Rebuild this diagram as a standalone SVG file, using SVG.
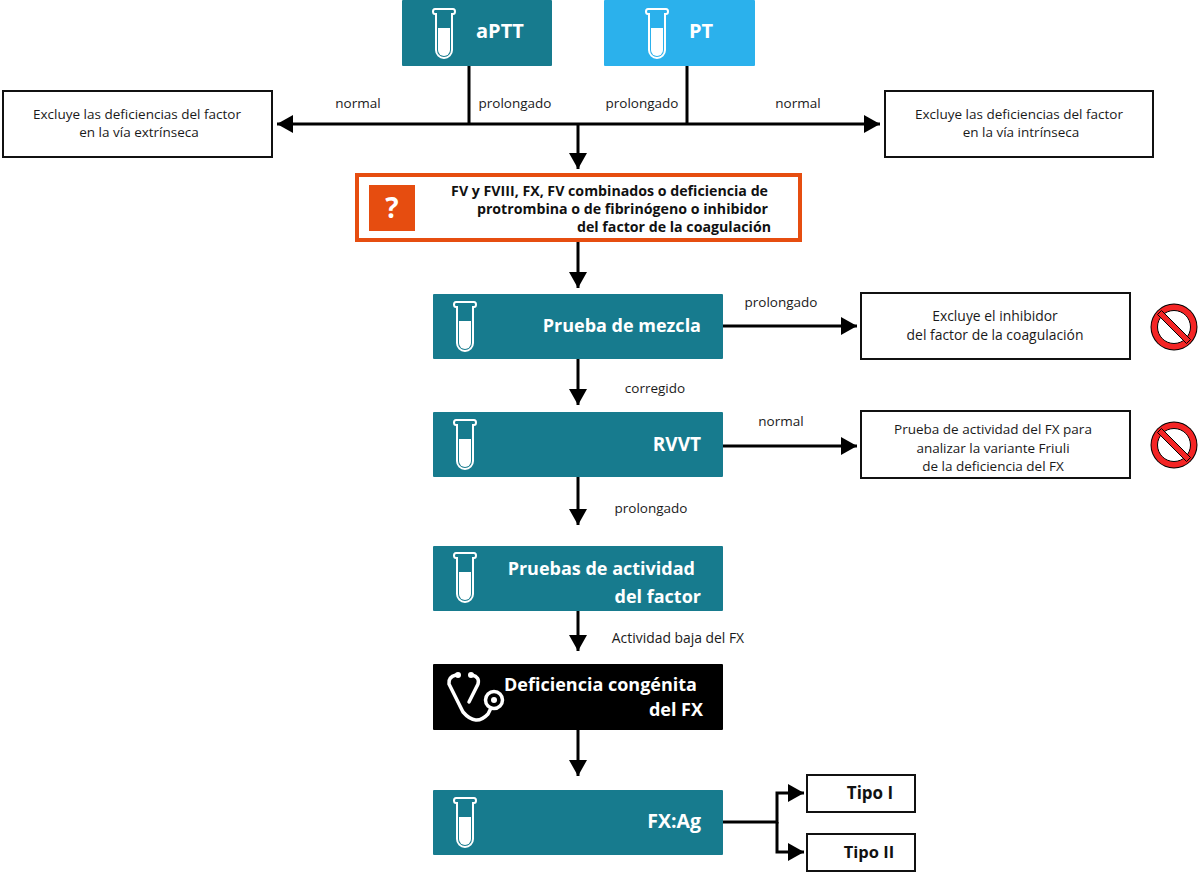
<svg xmlns="http://www.w3.org/2000/svg" xmlns:xlink="http://www.w3.org/1999/xlink" width="1200" height="874" viewBox="0 0 1200 874">
<style>
text{font-family:"Open Sans","Noto Sans","Liberation Sans",sans-serif}
.t{font-size:13.500px;fill:#1a1a1a}
.l{font-size:13.900px}
.m{text-anchor:middle}
.e{text-anchor:end}
.w{font-size:18px;font-weight:700;fill:#fff}
.b{font-size:14.200px;font-weight:700;fill:#111}
.teal{fill:#177b8e}
.box{fill:#fff;stroke:#111;stroke-width:2}
.line{fill:none;stroke:#000;stroke-width:3}
.tb{fill:none;stroke:#fff;stroke-width:2}
</style>
<defs>
<marker id="arr" markerUnits="userSpaceOnUse" markerWidth="16" markerHeight="18" refX="16" refY="9" orient="auto"><path d="M0 0L16 9L0 18Z" fill="#000"/></marker>
<g id="tube">
<path class="tb" d="M-9 0H9Q11 0 11 2.500Q11 5 9 5H8V41A8 8 0 0 1 -8 41V5H-9Q-11 5 -11 2.500Q-11 0 -9 0Z"/>
<path fill="#fff" d="M-6 19H6V41A6 6 0 0 1 -6 41Z"/>
</g>
<g id="no">
<circle r="23.500" fill="#000"/>
<circle r="22.500" fill="#f42525"/>
<circle r="16.500" fill="#fff" stroke="#000" stroke-width="1"/>
<path d="M-16.500 -12.500L-12.500 -16.500L16.500 12.500L12.500 16.500Z" fill="#f42525" stroke="#000" stroke-width="1"/>
</g>
</defs>
<rect width="1200" height="874" fill="#fff"/>
<g id="connectors">
<path class="line" d="M469 66V124M687 66V124"/>
<path class="line" marker-end="url(#arr)" d="M469 124H277"/>
<path class="line" marker-end="url(#arr)" d="M687 124H880"/>
<path class="line" d="M469 124H687"/>
<path class="line" marker-end="url(#arr)" d="M578 124V169"/>
<path class="line" marker-end="url(#arr)" d="M578 242V288"/>
<path class="line" marker-end="url(#arr)" d="M578 359V405"/>
<path class="line" marker-end="url(#arr)" d="M578 477V525"/>
<path class="line" marker-end="url(#arr)" d="M578 611V651"/>
<path class="line" marker-end="url(#arr)" d="M578 730V776"/>
<path class="line" marker-end="url(#arr)" d="M723 326H857"/>
<path class="line" marker-end="url(#arr)" d="M723 446H857"/>
<path class="line" marker-end="url(#arr)" d="M723 822H777V793H804"/>
<path class="line" marker-end="url(#arr)" d="M777 822V852H804"/>
</g>
<g id="connector-labels">
<text class="t m" x="358" y="108">normal</text>
<text class="t m" x="515" y="108">prolongado</text>
<text class="t m" x="642" y="108">prolongado</text>
<text class="t m" x="798" y="108">normal</text>
<text class="t m" x="781" y="307">prolongado</text>
<text class="t m" x="655" y="393">corregido</text>
<text class="t m" x="781" y="426">normal</text>
<text class="t m" x="651" y="513">prolongado</text>
<text class="t l m" x="678" y="643">Actividad baja del FX</text>
</g>
<g id="aptt"><rect class="teal" x="402" y="0" width="150" height="66" rx="1"/><use href="#tube" x="444" y="9"/><text class="w" style="font-size:20px" x="476" y="38">aPTT</text></g>
<g id="pt"><rect x="604" y="0" width="151" height="66" rx="1" fill="#2bb1ec"/><use href="#tube" x="657" y="9"/><text class="w" style="font-size:20px" x="689" y="38">PT</text></g>
<g id="extrinseca"><rect class="box" x="3" y="91" width="269" height="66"/><text class="t m" x="137" y="119">Excluye las deficiencias del factor</text><text class="t m" x="139" y="137">en la vía extrínseca</text></g>
<g id="intrinseca"><rect class="box" x="885" y="91" width="268" height="66"/><text class="t m" x="1019" y="119">Excluye las deficiencias del factor</text><text class="t m" x="1021" y="137">en la vía intrínseca</text></g>
<g id="pregunta"><rect x="357" y="175" width="443" height="65" fill="#fff" stroke="#e64d10" stroke-width="4"/><rect x="369" y="185" width="46" height="46" fill="#e64d10"/><text x="392" y="218" font-size="28" font-weight="700" fill="#fff" class="m">?</text>
<text class="b e" x="768" y="196">FV y FVIII, FX, FV combinados o deficiencia de</text><text class="b e" x="768" y="214">protrombina o de fibrinógeno o inhibidor</text><text class="b e" x="771" y="232">del factor de la coagulación</text></g>
<g id="mezcla"><rect class="teal" x="433" y="294" width="290" height="65" rx="1"/><use href="#tube" x="465" y="302"/><text class="w e" x="701" y="332">Prueba de mezcla</text></g>
<g id="inhibidor"><rect class="box" x="861" y="293" width="269" height="66"/><text class="t l m" x="995" y="321">Excluye el inhibidor</text><text class="t l m" x="995" y="340">del factor de la coagulación</text></g>
<use id="no1" href="#no" x="1174" y="327"/>
<g id="rvvt"><rect class="teal" x="433" y="412" width="290" height="65" rx="1"/><use href="#tube" x="465" y="420"/><text class="w e" style="font-size:19px" x="701" y="451">RVVT</text></g>
<g id="friuli"><rect class="box" x="861" y="411" width="269" height="67"/><text class="t m" x="993" y="434">Prueba de actividad del FX para</text><text class="t m" x="993" y="453">analizar la variante Friuli</text><text class="t m" x="993" y="471">de la deficiencia del FX</text></g>
<use id="no2" href="#no" x="1174" y="445"/>
<g id="actividad"><rect class="teal" x="433" y="546" width="290" height="65" rx="1"/><use href="#tube" x="465" y="553"/><text class="w e" x="695" y="575">Pruebas de actividad</text><text class="w e" x="701" y="603">del factor</text></g>
<g id="congenita"><rect x="433" y="664" width="290" height="66" rx="1" fill="#000"/>
<g fill="none" stroke="#fff" stroke-width="3.500" stroke-linecap="round"><path d="M456 675Q448 677 449 684L463 712Q476 727 488 714L491 708"/><path d="M472 675Q480 677 478 684L469 702"/><circle cx="494" cy="700" r="8.500"/></g><circle cx="494" cy="700" r="3" fill="#fff"/><circle cx="458" cy="675" r="3" fill="#fff"/><circle cx="471" cy="675" r="3" fill="#fff"/>
<text class="w e" x="697" y="691">Deficiencia congénita</text><text class="w e" x="703" y="716">del FX</text></g>
<g id="fxag"><rect class="teal" x="433" y="790" width="290" height="65" rx="1"/><use href="#tube" x="465" y="798"/><text class="w e" style="font-size:19.500px" x="701" y="828">FX:Ag</text></g>
<g id="tipo1"><rect class="box" x="807" y="775" width="108" height="37"/><text class="b m" style="font-size:17px" x="870" y="799">Tipo I</text></g>
<g id="tipo2"><rect class="box" x="807" y="834" width="108" height="37"/><text class="b m" style="font-size:16.500px" x="869" y="858">Tipo II</text></g>
</svg>
